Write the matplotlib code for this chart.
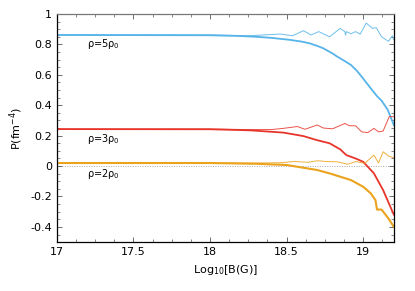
import matplotlib
matplotlib.use('Agg')
import matplotlib.pyplot as plt
from matplotlib.ticker import AutoMinorLocator, MultipleLocator, FormatStrFormatter

# colours
c_blue = '#56b4e9'
c_red = '#e8352b'
c_orange = '#eba21c'

# rho = 5 rho0
x5_low = [17.0, 18.0, 18.2, 18.3, 18.4, 18.52, 18.6, 18.65, 18.7, 18.74, 18.8, 18.83,
          18.88, 18.92, 18.96, 19.0, 19.05, 19.09, 19.12, 19.16, 19.2]
y5_low = [0.862, 0.86, 0.855, 0.85, 0.843, 0.83, 0.818, 0.807, 0.79, 0.774, 0.74, 0.72,
          0.69, 0.665, 0.625, 0.575, 0.51, 0.46, 0.43, 0.37, 0.27]
x5_up = [17.0, 18.0, 18.26, 18.46, 18.54, 18.61, 18.66, 18.71, 18.78, 18.85, 18.88, 18.885,
         18.89, 18.92, 18.95, 18.98, 19.02, 19.06, 19.085, 19.12, 19.165, 19.19, 19.2]
y5_up = [0.862, 0.862, 0.857, 0.868, 0.857, 0.89, 0.862, 0.884, 0.85, 0.905, 0.884, 0.86,
         0.884, 0.87, 0.884, 0.867, 0.94, 0.905, 0.91, 0.85, 0.82, 0.857, 0.83]

# rho = 3 rho0
x3_low = [17.0, 18.0, 18.26, 18.48, 18.61, 18.70, 18.78, 18.85, 18.89, 18.95, 19.0,
          19.07, 19.13, 19.2]
y3_low = [0.243, 0.242, 0.235, 0.22, 0.197, 0.17, 0.15, 0.11, 0.072, 0.05, 0.028,
          -0.048, -0.158, -0.32]
x3_up = [17.0, 18.0, 18.26, 18.40, 18.48, 18.57, 18.62, 18.70, 18.74, 18.80, 18.88, 18.91,
         18.95, 18.99, 19.03, 19.07, 19.10, 19.13, 19.17, 19.2]
y3_up = [0.243, 0.243, 0.24, 0.24, 0.248, 0.26, 0.242, 0.27, 0.25, 0.245, 0.28, 0.265,
         0.265, 0.225, 0.22, 0.248, 0.225, 0.23, 0.325, 0.325]

# rho = 2 rho0
x2_low = [17.0, 18.0, 18.3, 18.50, 18.70, 18.78, 18.85, 18.92, 19.0, 19.05, 19.08,
          19.09, 19.12, 19.165, 19.2]
y2_low = [0.02, 0.02, 0.015, 0.007, -0.026, -0.048, -0.07, -0.092, -0.136, -0.18, -0.224,
          -0.286, -0.286, -0.345, -0.40]
x2_up = [17.0, 18.0, 18.3, 18.46, 18.55, 18.64, 18.70, 18.76, 18.83, 18.9, 18.95, 19.01,
         19.07, 19.1, 19.13, 19.165, 19.2]
y2_up = [0.02, 0.02, 0.02, 0.022, 0.03, 0.025, 0.035, 0.03, 0.028, 0.012, 0.03, 0.018,
         0.072, 0.02, 0.094, 0.066, 0.055]

labels = ['ρ=5ρ$_0$', 'ρ=3ρ$_0$', 'ρ=2ρ$_0$']
label_y = [0.80, 0.18, -0.05]

fig = plt.figure(figsize=(4.15, 2.91), dpi=100)
ax = fig.add_axes([0.137, 0.168, 0.812, 0.784])

ax.axhline(0, color='#aaaaaa', lw=0.7, ls=(0, (1, 1.5)), zorder=1)

ax.plot(x5_up, y5_up, color=c_blue, lw=0.7, alpha=0.85)
ax.plot(x5_low, y5_low, color=c_blue, lw=1.3)
ax.plot(x3_up, y3_up, color=c_red, lw=0.7, alpha=0.85)
ax.plot(x3_low, y3_low, color=c_red, lw=1.3)
ax.plot(x2_up, y2_up, color=c_orange, lw=0.7, alpha=0.85)
ax.plot(x2_low, y2_low, color=c_orange, lw=1.5)

for lab, yy in zip(labels, label_y):
    ax.text(17.2, yy, lab, fontsize=7, va='center', ha='left')

ax.set_xlim(17, 19.2)
ax.set_ylim(-0.5, 1)
ax.xaxis.set_major_locator(MultipleLocator(0.5))
ax.xaxis.set_minor_locator(AutoMinorLocator(4))
ax.set_yticks([-0.4, -0.2, 0, 0.2, 0.4, 0.6, 0.8, 1.0])
ax.yaxis.set_minor_locator(MultipleLocator(0.05))
ax.xaxis.set_major_formatter(FormatStrFormatter('%g'))
ax.yaxis.set_major_formatter(FormatStrFormatter('%g'))
ax.tick_params(which='both', direction='in', top=True, right=True, labelsize=8)
ax.tick_params(which='major', length=3.5, width=0.6, color='#555555')
ax.tick_params(which='minor', length=2, width=0.5, color='#555555')
for s in ax.spines.values():
    s.set_linewidth(0.9)
ax.spines['top'].set_color('#777777')

ax.set_xlabel('Log$_{10}$[B(G)]', fontsize=8, labelpad=4)
ax.set_ylabel('P(fm$^{-4}$)', fontsize=8, labelpad=4)

fig.savefig('out.png', dpi=100)
